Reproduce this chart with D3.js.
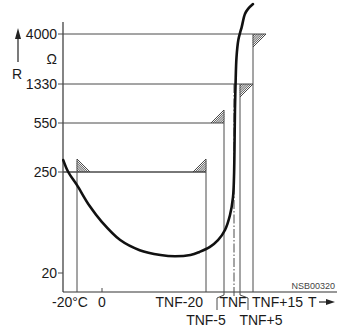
<!DOCTYPE html>
<html>
<head>
<meta charset="utf-8">
<script src="https://cdn.jsdelivr.net/npm/d3@7"></script>
<style>
  body { margin: 0; background: #fff; }
  svg text { font-family: "Liberation Sans", Arial, Helvetica, sans-serif; fill: #1a1a1a; }
</style>
</head>
<body>
<svg id="graph" width="337" height="329"></svg>
<script>
var w = 337;
var h = 329;

// resistance levels on the R axis (ohm)
var resTicks = [20, 250, 550, 1330, 4000];
// temperature reference points, TNF taken as 100
var tempPoints = [-20, 0, 80, 95, 100, 105, 115];
var tempLabels = ["-20°C", "0", "TNF-20", "TNF-5", "TNF", "TNF+5", "TNF+15"];

// tolerance corners: temperature / resistance pairs
var specTemp = [-20, 80, 95, 105, 115];
var specRes = [250, 250, 550, 1330, 4000];

// the PTC curve
var curveT = [-31, -27, -20, -10, 0, 14, 29, 45, 56, 68, 75, 83, 90, 95.5, 98, 99.5, 100, 100.4, 100.8, 101.3, 102.1, 103.6, 105, 106.3, 108.8, 111.2, 115];
var curveR = [323, 250, 220, 173, 136, 95, 72, 61, 58, 61, 68, 79, 95, 118, 152, 193, 239, 385, 810, 1330, 2770, 3680, 4050, 4370, 5070, 5340, 5600];

var axisX = 63, axisTop = 22, axisY = 292;
var lineCol = "#4a4a4a";
var hs = 13; // hatch size

// schematic scales (not proportional in the original drawing)
var x = d3.scaleLinear()
    .domain(tempPoints)
    .range([77, 102, 206, 224, 234, 240, 253]);
var y = d3.scaleLinear()
    .domain(resTicks)
    .range([273, 172, 123, 84, 34]);

var svg = d3.select("#graph");

// axes
svg.append("line")
    .attr("x1", axisX).attr("y1", axisTop)
    .attr("x2", axisX).attr("y2", axisY)
    .attr("stroke", "#333").attr("stroke-width", 1.2);
svg.append("line")
    .attr("x1", axisX).attr("y1", axisY)
    .attr("x2", w).attr("y2", axisY)
    .attr("stroke", "#333").attr("stroke-width", 1.2);

// y ticks + labels
svg.selectAll(".ytick")
    .data(resTicks)
    .enter()
    .append("line")
    .attr("class", "ytick")
    .attr("x1", axisX - 5).attr("x2", axisX)
    .attr("y1", function(d){ return y(d); })
    .attr("y2", function(d){ return y(d); })
    .attr("stroke", lineCol);
svg.selectAll(".ylab")
    .data(resTicks)
    .enter()
    .append("text")
    .attr("class", "ylab")
    .attr("x", axisX - 6)
    .attr("y", function(d){ return y(d) + 5; })
    .attr("text-anchor", "end")
    .style("font-size", "14px")
    .text(function(d){ return d; });

// 0 tick
svg.append("line")
    .attr("x1", x(0)).attr("x2", x(0))
    .attr("y1", axisY - 4).attr("y2", axisY)
    .attr("stroke", lineCol);

// horizontal and vertical tolerance lines
var spec = specTemp.map(function(t, i){ return {t: t, r: specRes[i]}; });
// which side the hatch sits on
var hatchDir = [[1, -1], [-1, -1], [-1, -1], [1, 1], [1, 1]];

spec.forEach(function(s, i){
    var cx = x(s.t), cy = y(s.r);
    var dx = hatchDir[i][0], dy = hatchDir[i][1];
    var xEnd = Math.max(cx, cx + dx * hs);
    if (s.t == -20) xEnd = x(80); // shared 250 line
    svg.append("line")
        .attr("x1", axisX).attr("x2", xEnd)
        .attr("y1", cy).attr("y2", cy)
        .attr("stroke", lineCol);
    svg.append("line")
        .attr("x1", cx).attr("x2", cx)
        .attr("y1", Math.min(cy, cy + dy * hs)).attr("y2", axisY)
        .attr("stroke", lineCol);
    // hatch lines parallel to the triangle's hypotenuse
    d3.range(1, 7).forEach(function(k){
        var f = k / 6;
        svg.append("line")
            .attr("x1", cx + dx * hs * f).attr("y1", cy)
            .attr("x2", cx).attr("y2", cy + dy * hs * f)
            .attr("stroke", "#333").attr("stroke-width", 0.9);
    });
});

// TNF dash-dot line
svg.append("line")
    .attr("x1", x(100)).attr("x2", x(100))
    .attr("y1", y(1330)).attr("y2", axisY + 4)
    .attr("stroke", lineCol)
    .attr("stroke-dasharray", "9,2,1.5,2");

// leaders down to TNF-5 and TNF+5 labels
[[95, -7], [105, 8]].forEach(function(p){
    var px = x(p[0]);
    svg.append("path")
        .attr("d", d3.line()([[px, axisY], [px, axisY + 3], [px + p[1], axisY + 6], [px + p[1], axisY + 18]]))
        .attr("fill", "none")
        .attr("stroke", lineCol);
});

// x labels
var row1 = [
    {lab: tempLabels[0], x: x(-20) - 25, a: "start"},
    {lab: tempLabels[1], x: x(0), a: "middle"},
    {lab: tempLabels[2], x: x(80) - 3, a: "end"},
    {lab: tempLabels[4], x: x(100) - 1, a: "middle"},
    {lab: tempLabels[6], x: x(115) - 1, a: "start"}
];
svg.selectAll(".xlab")
    .data(row1)
    .enter()
    .append("text")
    .attr("class", "xlab")
    .attr("x", function(d){ return d.x; })
    .attr("y", 307)
    .attr("text-anchor", function(d){ return d.a; })
    .style("font-size", "14px")
    .text(function(d){ return d.lab; });
svg.append("text")
    .attr("x", x(95) - 18).attr("y", 325)
    .attr("text-anchor", "middle")
    .style("font-size", "14px")
    .text(tempLabels[3]);
svg.append("text")
    .attr("x", x(105) + 21).attr("y", 325)
    .attr("text-anchor", "middle")
    .style("font-size", "14px")
    .text(tempLabels[5]);

// T arrow
svg.append("text")
    .attr("x", 308).attr("y", 307)
    .style("font-size", "14px")
    .text("T");
svg.append("line")
    .attr("x1", 319).attr("x2", 328)
    .attr("y1", 302).attr("y2", 302)
    .attr("stroke", "#222").attr("stroke-width", 1.2);
svg.append("path")
    .attr("d", "M326,299L335,302L326,305Z")
    .attr("fill", "#222");

// R arrow and units
svg.append("line")
    .attr("x1", 18).attr("x2", 18)
    .attr("y1", 62).attr("y2", 36)
    .attr("stroke", "#222").attr("stroke-width", 1.2);
svg.append("path")
    .attr("d", "M15,39L18,28L21,39Z")
    .attr("fill", "#222");
svg.append("text")
    .attr("x", 17).attr("y", 79)
    .attr("text-anchor", "middle")
    .style("font-size", "14px")
    .text("R");
svg.append("text")
    .attr("x", axisX - 6).attr("y", 64)
    .attr("text-anchor", "end")
    .style("font-size", "14px")
    .text("Ω");

svg.append("text")
    .attr("x", 335).attr("y", 289)
    .attr("text-anchor", "end")
    .style("font-size", "9px")
    .style("fill", "#444")
    .text("NSB00320");

// curve
var pts = curveT.map(function(t, i){ return [x(t), y(curveR[i])]; });
svg.append("path")
    .attr("d", d3.line().curve(d3.curveCatmullRom.alpha(0.5))(pts))
    .attr("fill", "none")
    .attr("stroke", "#111")
    .attr("stroke-width", 2.6)
    .attr("stroke-linecap", "round");
</script>
</body>
</html>
